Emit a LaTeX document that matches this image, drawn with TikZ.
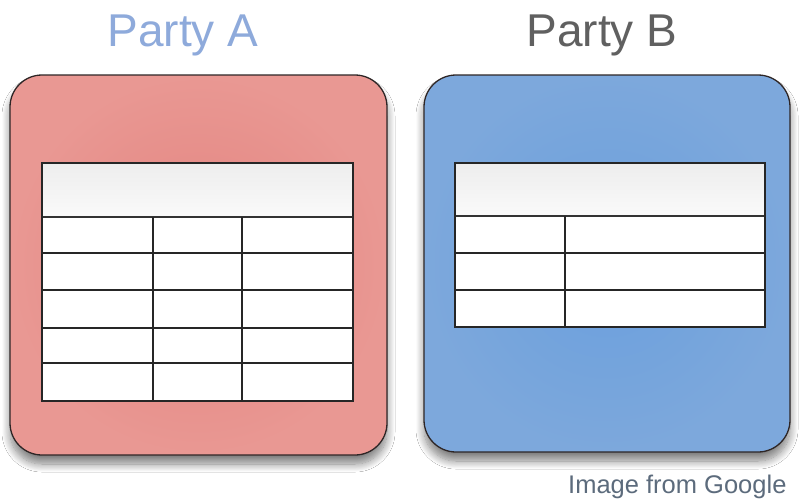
\documentclass[tikz,border=0pt]{standalone}
\usepackage{fontspec}
\setmainfont{Liberation Sans}
\usetikzlibrary{shadows.blur}
\definecolor{partyA}{HTML}{8EAADB}
\definecolor{partyB}{HTML}{606060}
\definecolor{creditc}{HTML}{5C6B7C}
\definecolor{redin}{HTML}{E3837F}
\definecolor{redout}{HTML}{E99893}
\definecolor{bluein}{HTML}{6A9FDD}
\definecolor{blueout}{HTML}{7DA8DC}
\definecolor{edgec}{HTML}{2E2626}
\tikzset{
  card/.style={draw=edgec, line width=1.3pt, rounded corners=32pt,
    blur shadow={shadow xshift=0pt, shadow yshift=-9pt, shadow blur radius=8pt,
      shadow blur steps=12, shadow opacity=50}},
  sheet/.style={draw=black!85, line width=1.3pt, fill=white},
  header/.style={top color=black!7, bottom color=black!2, draw=black!80, line width=1.3pt},
  grid/.style={draw=black!85, line width=1.3pt},
  title/.style={font=\fontsize{46}{50}\selectfont, anchor=base},
}
\begin{document}
\begin{tikzpicture}[x=1pt, y=-1pt]
\useasboundingbox (0,0) rectangle (800,499);
\fill[white] (0,0) rectangle (800,499);

% titles
\node[title, text=partyA] (titleA) at (183,46) {Party A};
\node[title, text=partyB] (titleB) at (602,46) {Party B};

% red card with a 3-column table
\path[card, inner color=redin, outer color=redout] (10,75) rectangle (387,455);
\node[coordinate] (cardA) at (198,265) {};
\path[sheet] (42,163) rectangle (353,401);
\path[header] (42,163) rectangle (353,217);
\foreach \yy in {253,290,328,363}
  \draw[grid] (42,\yy) -- (353,\yy);
\foreach \xx in {153,242}
  \draw[grid] (\xx,217) -- (\xx,401);
\draw[grid] (42,163) rectangle (353,401);

% blue card with a 2-column table
\path[card, inner color=bluein, outer color=blueout] (424,75) rectangle (790,452);
\node[coordinate] (cardB) at (607,263) {};
\path[sheet] (455,163) rectangle (765,327);
\path[header] (455,163) rectangle (765,216);
\foreach \yy in {253,290}
  \draw[grid] (455,\yy) -- (765,\yy);
\draw[grid] (565,216) -- (565,327);
\draw[grid] (455,163) rectangle (765,327);

% credit line
\node[anchor=base east, text=creditc, font=\fontsize{25.5}{28}\selectfont] (credit) at (790,493) {Image from Google};
\end{tikzpicture}
\end{document}
